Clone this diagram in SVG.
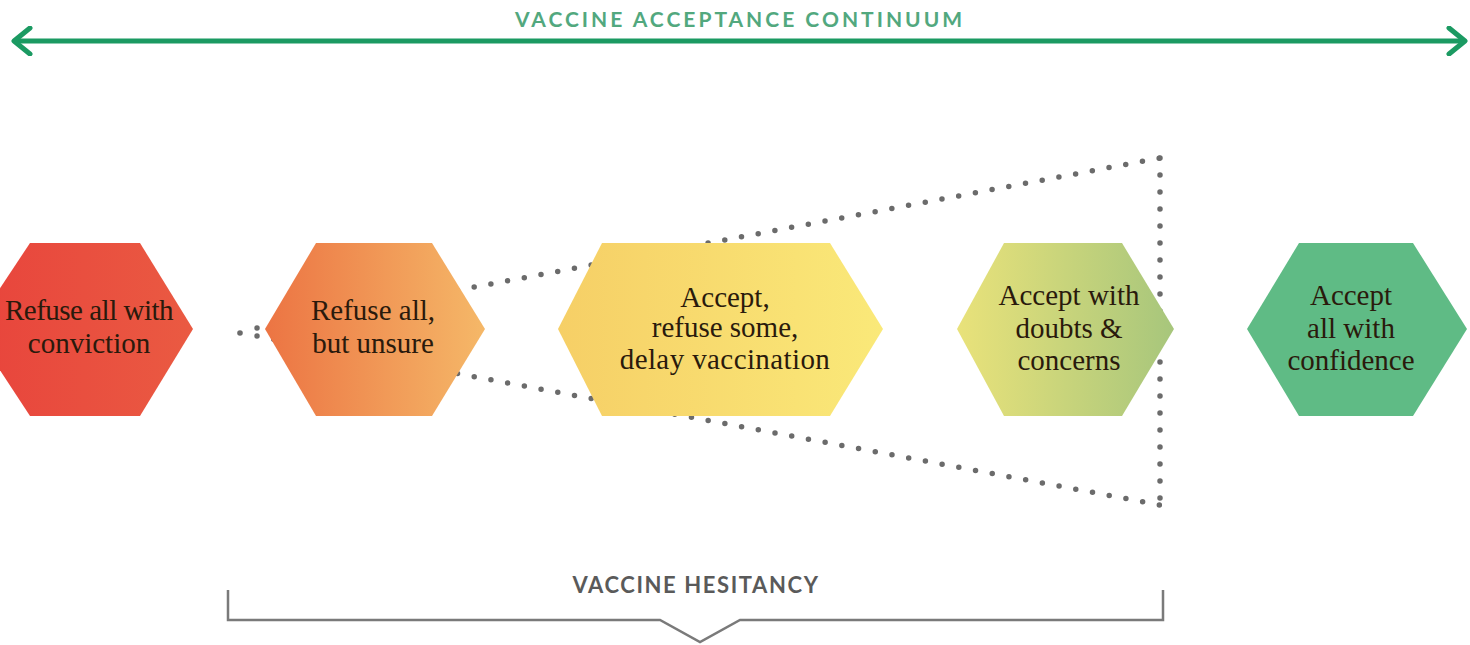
<svg xmlns="http://www.w3.org/2000/svg" width="1470" height="645" viewBox="0 0 1470 645">
  <style>
    .lbl { font-family: "Liberation Serif", "Times New Roman", serif; font-size: 29px; fill: #2a1a0c; text-anchor: middle; }
    .head { font-family: Lato, "Liberation Sans", sans-serif; font-weight: bold; text-anchor: middle; }
    .dots { fill: none; stroke: #6b6b6b; stroke-width: 5.5; stroke-linecap: round; stroke-dasharray: 0 17; }
  </style>
  <defs>
    <marker id="chev" viewBox="0 0 22 30" refX="19" refY="15" markerWidth="22" markerHeight="30" markerUnits="userSpaceOnUse" orient="auto-start-reverse">
      <path d="M3,2 L19,15 L3,28" fill="none" stroke="#1b9a62" stroke-width="5" stroke-linecap="round" stroke-linejoin="round"/>
    </marker>
    <linearGradient id="g1" x1="0" y1="0" x2="1" y2="0">
      <stop offset="0" stop-color="#e8443c"/>
      <stop offset="1" stop-color="#ea5a42"/>
    </linearGradient>
    <linearGradient id="g2" x1="0" y1="0" x2="1" y2="0">
      <stop offset="0" stop-color="#ec7443"/>
      <stop offset="1" stop-color="#f5b868"/>
    </linearGradient>
    <linearGradient id="g3" x1="0" y1="0" x2="1" y2="0">
      <stop offset="0" stop-color="#f6cf66"/>
      <stop offset="1" stop-color="#fae979"/>
    </linearGradient>
    <linearGradient id="g4" x1="0" y1="0" x2="1" y2="0">
      <stop offset="0" stop-color="#e9e27a"/>
      <stop offset="1" stop-color="#a7c67c"/>
    </linearGradient>
  </defs>

  <g id="continuum">
    <line x1="14" y1="41" x2="1465" y2="41" stroke="#1b9a62" stroke-width="5" marker-start="url(#chev)" marker-end="url(#chev)"/>
    <text class="head" x="740" y="27" font-size="21" fill="#52a87e" letter-spacing="3">VACCINE ACCEPTANCE CONTINUUM</text>
  </g>

  <g id="connectors">
    <circle cx="240" cy="333" r="2.8" fill="#6b6b6b"/>
    <path class="dots" d="M257,328 L1160,158"/>
    <path class="dots" d="M257,336 L1160,505"/>
    <path class="dots" d="M1160,158 L1160,505"/>
  </g>

  <g id="node-refuse-conviction">
    <polygon points="-27,329 30,243 140,243 193,329 140,416 30,416" fill="url(#g1)"/>
    <text class="lbl" x="89" y="320" letter-spacing="-0.5">Refuse all with</text>
    <text class="lbl" x="89" y="353">conviction</text>
  </g>

  <g id="node-refuse-unsure">
    <polygon points="265,329 316,243 432,243 485,329 432,416 316,416" fill="url(#g2)"/>
    <text class="lbl" x="373" y="320">Refuse all,</text>
    <text class="lbl" x="373" y="353">but unsure</text>
  </g>

  <g id="node-accept-delay">
    <polygon points="558,329 602,243 830,243 883,329 830,416 602,416" fill="url(#g3)"/>
    <text class="lbl" x="725" y="307">Accept,</text>
    <text class="lbl" x="725" y="337">refuse some,</text>
    <text class="lbl" x="725" y="369" letter-spacing="0.4">delay vaccination</text>
  </g>

  <g id="node-accept-doubts">
    <polygon points="957,329 1004,243 1122,243 1174,329 1122,416 1004,416" fill="url(#g4)"/>
    <text class="lbl" x="1069" y="305">Accept with</text>
    <text class="lbl" x="1069" y="338">doubts &amp;</text>
    <text class="lbl" x="1069" y="370">concerns</text>
  </g>

  <g id="node-accept-confidence">
    <polygon points="1247,329 1299,243 1413,243 1467,329 1413,416 1299,416" fill="#5fbb85"/>
    <text class="lbl" x="1351" y="305">Accept</text>
    <text class="lbl" x="1351" y="338">all with</text>
    <text class="lbl" x="1351" y="370">confidence</text>
  </g>

  <g id="hesitancy">
    <path d="M228,590 V620 H660 L700,642 L740,620 H1163 V590" fill="none" stroke="#7a7a7a" stroke-width="2.5"/>
    <text class="head" x="696" y="593" font-size="22" fill="#5a5a5a" letter-spacing="1.6">VACCINE HESITANCY</text>
  </g>
</svg>
